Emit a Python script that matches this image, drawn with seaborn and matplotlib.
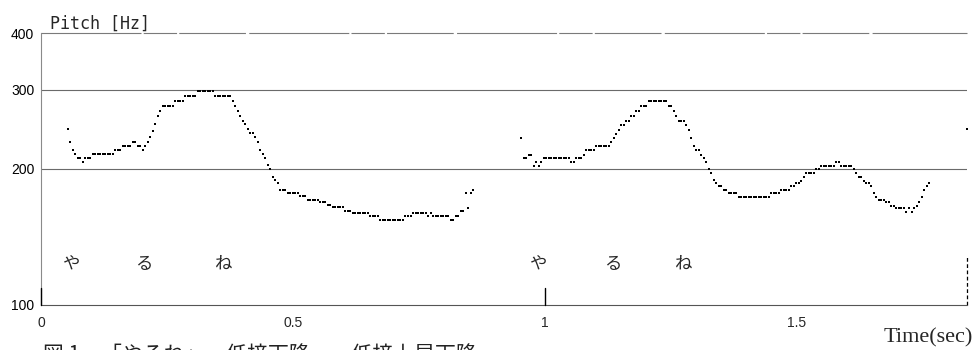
import numpy as np
import pandas as pd
import matplotlib
matplotlib.use("Agg")
import matplotlib.pyplot as plt
import matplotlib.transforms as mtransforms
from matplotlib.ticker import FixedLocator, FixedFormatter, NullLocator
import seaborn as sns

# ---------------- data ----------------
FRAME_STEP = 0.00497          # pitch-tracker frame period (s)
SEG1_START = 0.0524           # first voiced frame, utterance 1 (s)
SEG1_HZ = [245, 230, 220, 216, 212, 212, 207.5, 212, 212, 212,
           216, 216, 216, 216, 216, 216, 216, 216, 216,
           220, 220, 220,
           225, 225, 225, 225,
           230, 230,
           225, 225,
           220, 225, 230, 235, 243, 251, 262, 269,
           276, 276, 276, 276, 276,
           283.5, 283.5, 283.5, 283.5,
           290, 290, 290, 290, 290,
           298, 298, 298, 298, 298, 298, 298,
           290, 290, 290, 290, 290, 290, 290,
           283, 276, 269, 262, 256, 251, 245, 240, 240, 235, 230, 220, 216,
           211, 203.6, 199.5, 192, 189, 186,
           180, 180, 180,
           177, 177, 177, 177, 177,
           174, 174, 174,
           171, 171, 171, 171, 171,
           169, 169, 169,
           166, 166,
           164.3, 164.3, 164.3, 164.3, 164.3,
           161.2, 161.2, 161.2,
           159.3, 159.3, 159.3, 159.3, 159.3, 159.3, 159.3,
           157.4, 157.4, 157.4, 157.4,
           154, 154, 154, 154, 154, 154, 154, 154, 154, 154,
           157.4, 157.4, 157.4,
           159.3, 159.3, 159.3, 159.3, 159.3, 159.3,
           157.4, 159.3,
           157.4, 157.4, 157.4, 157.4, 157.4, 157.4, 157.4,
           154, 154,
           157.4, 157.4,
           161, 161,
           177, 164, 177, 180]

SEG2_START = 0.953            # first voiced frame, utterance 2 (s)
SEG2_HZ = [234.6, 211, 211, 215, 215, 203, 207, 203, 207,
           211, 211, 211, 211, 211, 211, 211, 211, 211, 211, 211,
           207, 207,
           211, 211, 211,
           215,
           220, 220, 220, 220,
           224.4, 224.4, 224.4, 224.4, 224.4, 224.4,
           229, 234.6, 239.4, 244.5,
           250.7, 250.7, 255, 255, 262, 262, 268.4, 268.4,
           276, 276, 276,
           282.5, 282.5, 282.5, 282.5, 282.5, 282.5, 282.5, 282.5,
           276, 276,
           268.4, 262,
           255, 255, 255,
           250, 244.5, 234.6, 224.4,
           220, 220,
           215, 211, 207, 200, 196, 189, 186,
           183, 183, 180, 180,
           177, 177, 177, 177,
           173.7, 173.7, 173.7, 173.7, 173.7, 173.7, 173.7, 173.7, 173.7,
           173.7, 173.7, 173.7, 173.7,
           177, 177, 177, 177,
           180, 180, 180, 180,
           183, 183, 186, 186,
           188.5, 192,
           196, 196, 196, 196,
           199.5, 199.5,
           203, 203, 203, 203, 203, 203,
           207, 207,
           203, 203, 203, 203, 203,
           199.5, 196, 192, 192, 188.5, 186, 186, 183, 177, 173.7,
           170.8, 170.8, 170.8,
           168.5, 168.5,
           165.8, 165.8,
           163.7, 163.7, 163.7, 163.7,
           160.7, 163.7, 160.7, 163.7, 165.8, 168.8, 173.7, 180, 183, 186]

EXTRA_TIME = [1.838]
EXTRA_HZ = [245]

KANA = ["や", "る", "ね", "や", "る", "ね"]
KANA_TIME = [0.061, 0.2035, 0.361, 0.9887, 1.1356, 1.2747]
KANA_HZ = 123

Y_TICKS = [100, 200, 300, 400]
Y_TICK_LABELS = ["100", "200", "300", "400"]
X_TICKS = [0, 0.5, 1, 1.5]
X_TICK_LABELS = ["0", "0.5", "1", "1.5"]
X_MINOR = [0.1, 0.2, 0.3, 0.4, 0.6, 0.7, 0.8, 0.9, 1.1, 1.2, 1.3, 1.4, 1.6, 1.7, 1.8]
X_MAX = 1.838

# ------------- assemble table -------------
t1 = SEG1_START + FRAME_STEP * np.arange(len(SEG1_HZ))
t2 = SEG2_START + FRAME_STEP * np.arange(len(SEG2_HZ))
df = pd.DataFrame({
    "time": np.concatenate([t1, t2, EXTRA_TIME]),
    "hz": np.concatenate([SEG1_HZ, SEG2_HZ, EXTRA_HZ]),
})

# ---------------- plot ----------------
sns.set_style("white")
plt.rcParams["font.family"] = ["Liberation Sans", "DejaVu Sans"]

fig = plt.figure(figsize=(9.76, 3.5), dpi=100)
ax = fig.add_axes([0.0423, 0.1297, 0.9482, 0.7752])
ax.set_facecolor("white")

ax.set_yscale("log")
ax.set_ylim(100, 400)
ax.set_xlim(0, X_MAX)

# grid lines
ax.axhline(200, color="#6a6a6a", lw=0.8, zorder=1)
ax.axhline(300, color="#6a6a6a", lw=0.8, zorder=1)
ax.axhline(400, color="#7a7a7a", lw=0.8, zorder=1,
           linestyle=(0, (90, 2, 30, 2, 60, 3)), clip_on=False)

sns.scatterplot(data=df, x="time", y="hz", ax=ax, marker="s", s=1.3,
                color="black", linewidth=0, zorder=3, clip_on=False, legend=False)

# spines
for side in ("top", "right"):
    ax.spines[side].set_visible(False)
ax.spines["left"].set_color("#8a8a8a")
ax.spines["left"].set_linewidth(0.8)
ax.spines["bottom"].set_color("#555555")
ax.spines["bottom"].set_linewidth(0.8)

# right end dashed marker
ax.plot([X_MAX, X_MAX], [100, 129], color="black", lw=0.9,
        linestyle=(0, (3, 2)), clip_on=False, zorder=2)

# ticks
ax.yaxis.set_major_locator(FixedLocator(Y_TICKS))
ax.yaxis.set_major_formatter(FixedFormatter(Y_TICK_LABELS))
ax.yaxis.set_minor_locator(NullLocator())
ax.tick_params(axis="y", which="both", length=0, pad=5, labelsize=10,
               labelcolor="black")

ax.xaxis.set_major_locator(FixedLocator(X_TICKS))
ax.xaxis.set_major_formatter(FixedFormatter(X_TICK_LABELS))
ax.xaxis.set_minor_locator(FixedLocator(X_MINOR))
ax.tick_params(axis="x", which="major", direction="in", length=7, width=0.9,
               color="#888888", pad=8, labelsize=10)
ax.tick_params(axis="x", which="minor", direction="in", length=3.5, width=0.8,
               color="#555555")

# taller separators at utterance starts
trans = mtransforms.blended_transform_factory(ax.transData, ax.transAxes)
for xv in (0, 1):
    ax.plot([xv, xv], [0, 0.06], color="black", lw=1.0, transform=trans,
            clip_on=False, zorder=4)

# kana labels
for k, tx in zip(KANA, KANA_TIME):
    ax.text(tx, KANA_HZ, k, ha="center", va="center", fontsize=12.5,
            family=["Noto Sans CJK JP", "DejaVu Sans"])

ax.set_xlabel("")
ax.set_ylabel("")

# titles / captions
fig.text(50 / 976, 1 - 28.5 / 350, "Pitch [Hz]", family="DejaVu Sans Mono",
         fontsize=12, ha="left", va="baseline")
fig.text(973 / 976, 1 - 342 / 350, "Time(sec)", family="Liberation Serif",
         fontsize=16, ha="right", va="baseline")
fig.text(43 / 976, 1 - 361 / 350, "図 1　「やるね」　低接下降、　低接上昇下降",
         family=["Noto Sans CJK JP", "DejaVu Sans"], fontsize=15,
         ha="left", va="baseline", color="#222222")

fig.savefig("out.png", dpi=100, facecolor="white")
